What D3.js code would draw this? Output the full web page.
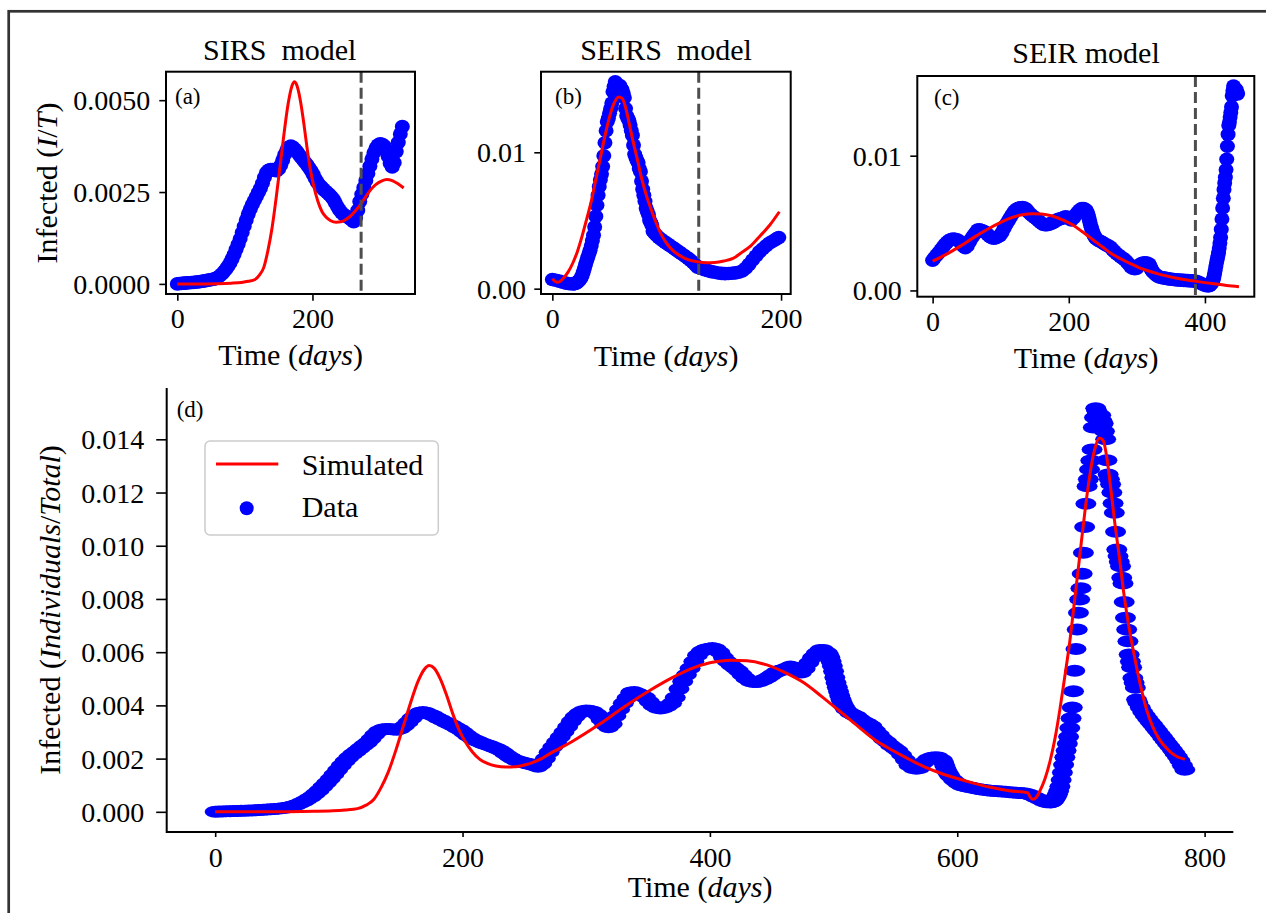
<!DOCTYPE html>
<html lang="en">
<head>
<meta charset="utf-8">
<title>SIRS / SEIRS / SEIR fits</title>
<script src="https://d3js.org/d3.v7.min.js"></script>
<style>
  body { margin: 0; background: #fff; }
  svg text { font-family: "Liberation Serif", "DejaVu Serif", serif; fill: #000; }
</style>
</head>
<body>
<svg id="fig" width="1266" height="913"></svg>
<script>
// observed infected fraction, days counted on the long series of panel (d)
var obsDays = [
  0,3,6,9,12,15,18,21,24,27, 30,33,36,39,42,45,48,51,54,57,
  60,63,66,69,72,75,78,81,84,87, 90,93,96,99,102,105,108,111,114,117,
  120,123,126,129,132,135,138,141,144,147, 150,153,156,159,162,165,168,171,174,177,
  180,183,186,189,192,195,198,201,204,207, 210,213,216,219,222,225,228,231,234,237,
  240,243,246,249,252,255,258,261,264,267, 270,273,276,279,282,285,288,291,294,297,
  300,303,306,309,312,315,318,321,324,327, 330,333,336,339,342,345,348,351,354,357,
  360,363,366,369,372,375,378,381,384,387, 390,393,396,399,402,405,408,411,414,417,
  420,423,426,429,432,435,438,441,444,447, 450,453,456,459,462,465,468,471,474,477,
  480,483,486,489,492,
  495,496,497,498,499,500,501,502,503,504,505,506,507,508,509,
  510,513,516,519,522,525,528,531,534,537,
  540,543,546,549,552,555,558,561,564,567,
  570,573,576,579,582,585,588,589,590,591,592,593,594,597,
  600,603,606,609,612,615,618,621,624,627, 630,633,636,639,642,645,648,651,654,657,
  660,663,666,669,672,675,
  676,677,678,679,680,681,682,683,684,685, 686,687,688,689,690,691,692,693,694,695,
  696,697,698,699,700,701,702,703,704,705, 706,707,708,709,710,711,712,713,714,715,
  716,717,718,719,720,721,722,723,724,725, 726,727,728,729,730,731,732,733,734,735,
  736,737,738,739,740,741,742,743,744,745, 746,
  748,750,752,754,756,758,760,762,764,766, 768,770,772,774,776,778,780,782,784,
  787,790,793,796,799,802,805,808,811,814, 817,820,823,826,829,832,835,838,841,844,
  847,850,853,855
];
var obsVals = [
  0.00000,0.00001,0.00001,0.00002,0.00002,0.00003,0.00003,0.00004,0.00004,0.00005,
  0.00005,0.00006,0.00007,0.00008,0.00009,0.00010,0.00011,0.00012,0.00013,0.00015,
  0.00018,0.00022,0.00027,0.00033,0.00040,0.00048,0.00057,0.00068,0.00080,0.00094,
  0.00108,0.00123,0.00140,0.00157,0.00174,0.00190,0.00204,0.00216,0.00227,0.00238,
  0.00249,0.00260,0.00274,0.00290,0.00303,0.00309,0.00311,0.00311,0.00309,0.00308,
  0.00313,0.00323,0.00337,0.00352,0.00364,0.00372,0.00375,0.00372,0.00366,0.00360,
  0.00352,0.00345,0.00338,0.00331,0.00324,0.00316,0.00308,0.00298,0.00287,0.00277,
  0.00270,0.00264,0.00258,0.00253,0.00248,0.00243,0.00237,0.00230,0.00220,0.00210,
  0.00201,0.00194,0.00189,0.00185,0.00182,0.00179,0.00174,0.00169,0.00180,0.00200,
  0.00224,0.00244,0.00262,0.00281,0.00300,0.00320,0.00340,0.00357,0.00370,0.00378,
  0.00381,0.00380,0.00376,0.00366,0.00347,0.00328,0.00318,0.00330,0.00360,0.00385,
  0.00408,0.00428,0.00448,0.00450,0.00445,0.00438,0.00430,0.00414,0.00400,0.00391,
  0.00388,0.00391,0.00398,0.00408,0.00430,0.00462,0.00490,0.00515,0.00540,0.00565,
  0.00588,0.00603,0.00610,0.00613,0.00616,0.00612,0.00600,0.00580,0.00565,0.00552,
  0.00541,0.00530,0.00515,0.00502,0.00492,0.00488,0.00488,0.00492,0.00497,0.00505,
  0.00514,0.00524,0.00530,0.00534,0.00540,0.00546,0.00542,0.00530,0.00524,0.00538,
  0.00560,0.00580,0.00596,0.00608,0.00608,
  0.00598,0.00590,0.00580,0.00565,0.00548,0.00528,0.00505,0.00485,0.00468,0.00452,
  0.00436,0.00422,0.00410,0.00400,0.00392,
  0.00385,0.00372,0.00365,0.00358,0.00347,0.00338,0.00331,0.00322,0.00305,0.00290,
  0.00274,0.00263,0.00250,0.00240,0.00230,0.00214,0.00196,0.00175,0.00165,0.00162,
  0.00165,0.00185,0.00198,0.00203,0.00205,0.00204,0.00195,0.00185,0.00172,0.00160,
  0.00150,0.00142,0.00135,0.00120,
  0.00108,0.00100,0.00096,0.00093,0.00090,0.00088,0.00085,0.00083,0.00081,0.00079,
  0.00078,0.00077,0.00076,0.00075,0.00074,0.00073,0.00072,0.00071,0.00070,0.00067,
  0.00062,0.00055,0.00048,0.00041,0.00036,0.00035,
  0.00036,0.00038,0.00042,0.00048,0.00056,0.00066,0.00078,0.00095,0.00120,0.00148,
  0.00177,0.00205,0.00230,0.00256,0.00282,0.00315,0.00352,0.00392,0.00453,0.00530,
  0.00612,0.00685,0.00748,0.00798,0.00840,0.00895,0.00974,0.01070,0.01158,0.01224,
  0.01250,0.01287,0.01320,0.01362,0.01444,0.01482,0.01517,0.01505,0.01470,0.01482,
  0.01490,0.01470,0.01459,0.01430,0.01400,0.01321,0.01268,0.01250,0.01231,0.01200,
  0.01160,0.01124,0.01053,0.00986,0.00961,0.00940,0.00923,0.00880,0.00858,0.00789,
  0.00729,0.00685,0.00641,0.00591,0.00565,0.00543,0.00503,0.00485,0.00466,0.00422,
  0.00410,
  0.00392,0.00375,0.00362,0.00350,0.00338,0.00327,0.00315,0.00304,0.00292,0.00280,
  0.00268,0.00256,0.00245,0.00232,0.00220,0.00207,0.00193,0.00175,0.00158,
  0.00148,0.00140,0.00132,0.00125,0.00120,0.00115,0.00112,0.00110,0.00111,0.00113,
  0.00116,0.00120,0.00130,0.00150,0.00178,0.00210,0.00240,0.00270,0.00293,0.00315,
  0.00335,0.00350,0.00365,0.00375
];

// simulated curves, each in its own panel's time frame
var sirsDays = [0,40,80,95,105,115,122,128,134,140, 146,152,158,164,169,173,177,182,187,192,
                197,202,208,214,220,227,235,242,250,257, 263,270,278,286,294,302,310,318,326,335];
var sirsVals = [0,0,0.00002,0.00004,0.00007,0.00012,0.00025,0.00045,0.00090,0.00150,
                0.00230,0.00320,0.00410,0.00490,0.00535,0.00550,0.00540,0.00500,0.00440,0.00370,
                0.00310,0.00265,0.00225,0.00197,0.00182,0.00172,0.00168,0.00169,0.00176,0.00186,
                0.00198,0.00213,0.00235,0.00256,0.00271,0.00280,0.00284,0.00281,0.00273,0.00261];

var seirDays = [0,20,40,60,80,100,115,130,147,160, 176,190,206,220,235,250,264,276,290,303,
                316,330,343,357,372,387,400,416,432,450];
var seirVals = [0.00217,0.00268,0.00327,0.00392,0.00452,0.00505,0.00538,0.00560,0.00570,0.00568,
                0.00552,0.00525,0.00485,0.00435,0.00378,0.00320,0.00268,0.00235,0.00200,0.00170,
                0.00146,0.00125,0.00108,0.00092,0.00079,0.00068,0.00058,0.00047,0.00037,0.00028];

var seirsDays = [0,2,4,7,10,14,18,22,26,30, 34,38,42,46,50,54,58,61,64,67,
                 70,74,78,82,86,91,96,101,106,112, 118,127,135,142,150,158,166,174,182,190, 198.5];
var seirsVals = [0.00072,0.00055,0.00047,0.00055,0.00080,0.00125,0.00190,0.00275,0.00385,0.00510,
                 0.00640,0.00800,0.00960,0.01120,0.01260,0.01360,0.01405,0.01395,0.01330,0.01220,
                 0.01100,0.00960,0.00810,0.00690,0.00590,0.00478,0.00385,0.00320,0.00275,0.00240,
                 0.00215,0.00197,0.00190,0.00192,0.00203,0.00222,0.00268,0.00318,0.00390,0.00465,
                 0.00564];

// where each short window starts on the long series, and its training cut-off
var seirStart = 270, seirsStart = 657;
var sirsCut = 272, seirsCut = 128, seirCut = 386;

var ticksA = [0, 0.0025, 0.005], ticksBC = [0, 0.01];
var ticksD = [0, 0.002, 0.004, 0.006, 0.008, 0.010, 0.012, 0.014];

var svg = d3.select('#fig');

// outer frame of the figure (cut off at right and bottom)
svg.append('rect')
    .attr('x', 8.7).attr('y', 11.3)
    .attr('width', 1400).attr('height', 1000)
    .attr('fill', 'none').attr('stroke', '#333').attr('stroke-width', 2.7);

function windowPts(days, vals, from, to, shift) {
    var out = [];
    days.forEach(function (d, i) {
        if (d >= from && d <= to) out.push([d - shift, vals[i]]);
    });
    return out;
}

function padded(ext) {
    var m = (ext[1] - ext[0]) * 0.05;
    return [ext[0] - m, ext[1] + m];
}

// composite fit for (d)
var fitD = windowPts(sirsDays, sirsVals, 0, seirStart - 0.1, 0)
    .concat(windowPts(seirDays, seirVals, 0, seirsStart - seirStart - 0.1, 0).map(function (p) { return [p[0] + seirStart, p[1]]; }))
    .concat(windowPts(seirsDays, seirsVals, 0, 784 - seirsStart, 0).map(function (p) { return [p[0] + seirsStart, p[1]]; }));

var panels = [
    { id: 'a', box: {l: 166, r: 415, t: 71.7, b: 294}, frame: 'box',
      obs: windowPts(obsDays, obsVals, 0, 333, 0),
      fits: [windowPts(sirsDays, sirsVals, 0, 1000, 0)], cut: sirsCut,
      xTicks: [0, 200], yTicks: ticksA, yFmt: '.4f',
      yTick: 6.7, xTick: 6.7, yPad: 9, xPad: 7.4, rx: 7.5, ry: 6.8,
      label: ['(a)', 175, 104], title: ['SIRS\u00a0 model', 279.7, 60],
      xlabel: [290.5, 365], ylabel: [57, 183, 'I', 'T'] },
    { id: 'b', box: {l: 541, r: 790.7, t: 71.7, b: 294}, frame: 'box',
      obs: windowPts(obsDays, obsVals, seirsStart, seirsStart + 198, seirsStart),
      fits: [windowPts(seirsDays, seirsVals, 0, 1000, 0)], cut: seirsCut,
      xTicks: [0, 200], yTicks: ticksBC, yFmt: '.2f',
      yTick: 6.7, xTick: 6.7, yPad: 8.3, xPad: 7.4, rx: 7.5, ry: 6.8,
      label: ['(b)', 555, 104], title: ['SEIRS\u00a0 model', 666, 60],
      xlabel: [666, 365.7] },
    { id: 'c', box: {l: 917.3, r: 1254.3, t: 76, b: 296.7}, frame: 'box',
      obs: windowPts(obsDays, obsVals, seirStart, seirStart + 448, seirStart),
      fits: [windowPts(seirDays, seirVals, 0, 1000, 0)], cut: seirCut,
      xTicks: [0, 200, 400], yTicks: ticksBC, yFmt: '.2f',
      yTick: 7, xTick: 6.7, yPad: 8.6, xPad: 8.1, rx: 7.5, ry: 6.8,
      label: ['(c)', 934, 105], title: ['SEIR model', 1086, 63.3],
      xlabel: [1086, 368] },
    { id: 'd', box: {l: 166.7, r: 1233.3, t: 388, b: 832}, frame: 'lb',
      obs: windowPts(obsDays, obsVals, 0, 784, 0),
      fits: [fitD], cut: null,
      xTicks: [0, 200, 400, 600, 800], yTicks: ticksD, yFmt: '.3f',
      yTick: 10.5, xTick: 5, yPad: 12, xPad: 9.8, rx: 10.5, ry: 6,
      label: ['(d)', 176.7, 417],
      xlabel: [700, 897], ylabel: [60, 610, 'Individuals', 'Total'] }
];

var line = d3.line().curve(d3.curveMonotoneX);
var wordSize = '30px';

panels.forEach(function (p) {
    var all = p.obs.concat(d3.merge(p.fits));
    var x = d3.scaleLinear().domain(padded(d3.extent(all, function (d) { return d[0]; })))
        .range([p.box.l, p.box.r]);
    var y = d3.scaleLinear().domain(padded(d3.extent(all, function (d) { return d[1]; })))
        .range([p.box.b, p.box.t]);

    var g = svg.append('g').attr('class', 'panel-' + p.id);
    g.append('clipPath').attr('id', 'clip-' + p.id).append('rect')
        .attr('x', p.box.l).attr('y', p.box.t)
        .attr('width', p.box.r - p.box.l).attr('height', p.box.b - p.box.t);

    var plot = g.append('g').attr('clip-path', 'url(#clip-' + p.id + ')');
    plot.selectAll('ellipse').data(p.obs).join('ellipse')
        .attr('cx', function (d) { return x(d[0]); })
        .attr('cy', function (d) { return y(d[1]); })
        .attr('rx', p.rx).attr('ry', p.ry)
        .attr('fill', '#0000ff');

    line.x(function (d) { return x(d[0]); }).y(function (d) { return y(d[1]); });
    p.fits.forEach(function (f) {
        plot.append('path').attr('d', line(f))
            .attr('fill', 'none').attr('stroke', '#ff0000').attr('stroke-width', 3);
    });

    if (p.cut !== null) {
        plot.append('line')
            .attr('x1', x(p.cut)).attr('x2', x(p.cut))
            .attr('y1', p.box.t).attr('y2', p.box.b)
            .attr('stroke', '#4d4d4d').attr('stroke-width', 3)
            .attr('stroke-dasharray', '11,5');
    }

    // spines
    if (p.frame === 'box') {
        g.append('rect').attr('x', p.box.l).attr('y', p.box.t)
            .attr('width', p.box.r - p.box.l).attr('height', p.box.b - p.box.t)
            .attr('fill', 'none').attr('stroke', '#000').attr('stroke-width', 2);
    } else {
        g.append('path')
            .attr('d', 'M' + p.box.l + ',' + p.box.t + 'V' + p.box.b + 'H' + p.box.r)
            .attr('fill', 'none').attr('stroke', '#000').attr('stroke-width', 2);
    }

    var gy = g.append('g').attr('transform', 'translate(' + p.box.l + ',0)')
        .call(d3.axisLeft(y).tickValues(p.yTicks).tickFormat(d3.format(p.yFmt))
            .tickSizeInner(p.yTick).tickSizeOuter(0).tickPadding(p.yPad));
    var gx = g.append('g').attr('transform', 'translate(0,' + p.box.b + ')')
        .call(d3.axisBottom(x).tickValues(p.xTicks).tickFormat(d3.format('d'))
            .tickSizeInner(p.xTick).tickSizeOuter(0).tickPadding(p.xPad));
    [gy, gx].forEach(function (ax) {
        ax.select('.domain').remove();
        ax.attr('font-family', null).attr('font-size', null);
        ax.selectAll('.tick line').attr('stroke', '#000').attr('stroke-width', 1.6);
        ax.selectAll('.tick text').style('font-size', '28px');
    });
    gy.selectAll('.tick text').attr('dy', '0.34em');

    // panel letter
    g.append('text').attr('x', p.label[1]).attr('y', p.label[2])
        .style('font-size', '23px').text(p.label[0]);

    if (p.title) {
        g.append('text').attr('x', p.title[1]).attr('y', p.title[2])
            .attr('text-anchor', 'middle').style('font-size', wordSize).text(p.title[0]);
    }

    var xl = g.append('text').attr('x', p.xlabel[0]).attr('y', p.xlabel[1])
        .attr('text-anchor', 'middle').style('font-size', wordSize);
    xl.append('tspan').text('Time (');
    xl.append('tspan').style('font-style', 'italic').text('days');
    xl.append('tspan').text(')');

    if (p.ylabel) {
        var yl = g.append('text')
            .attr('transform', 'translate(' + p.ylabel[0] + ',' + p.ylabel[1] + ') rotate(-90)')
            .attr('text-anchor', 'middle').style('font-size', wordSize);
        yl.append('tspan').text('Infected (');
        yl.append('tspan').style('font-style', 'italic').text(p.ylabel[2]);
        yl.append('tspan').text('/');
        yl.append('tspan').style('font-style', 'italic').text(p.ylabel[3]);
        yl.append('tspan').text(')');
    }
});

// legend of panel (d)
var lg = svg.append('g').attr('class', 'legend');
lg.append('rect').attr('x', 205).attr('y', 441).attr('width', 233.3).attr('height', 94)
    .attr('rx', 5).attr('fill', '#fff').attr('fill-opacity', 0.8)
    .attr('stroke', '#cccccc').attr('stroke-width', 1.5);
lg.append('line').attr('x1', 216).attr('x2', 278.3).attr('y1', 464).attr('y2', 464)
    .attr('stroke', '#ff0000').attr('stroke-width', 3);
lg.append('circle').attr('cx', 246.7).attr('cy', 508.3).attr('r', 7).attr('fill', '#0000ff');
lg.append('text').attr('x', 301.7).attr('y', 475).style('font-size', wordSize).text('Simulated');
lg.append('text').attr('x', 301.7).attr('y', 516.7).style('font-size', wordSize).text('Data');
</script>
</body>
</html>
